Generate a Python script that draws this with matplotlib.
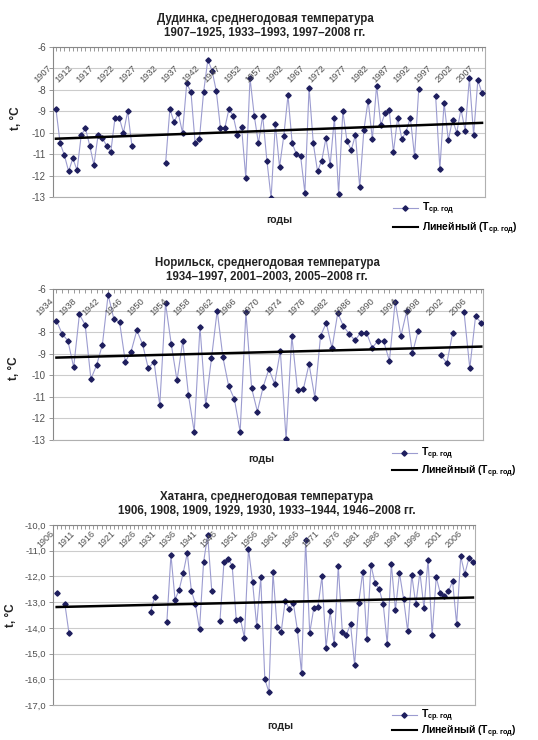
import numpy as np
import pandas as pd
import matplotlib
matplotlib.use("Agg")
import matplotlib.pyplot as plt
from matplotlib.lines import Line2D

plt.rcParams['font.family'] = ['Liberation Sans', 'DejaVu Sans']
plt.rcParams['mathtext.fontset'] = 'custom'
plt.rcParams['mathtext.rm'] = 'Liberation Sans:bold'
plt.rcParams['mathtext.it'] = 'Liberation Sans:bold'
plt.rcParams['mathtext.bf'] = 'Liberation Sans:bold'

# Дудинка
dud_years = list(range(1907, 1926)) + list(range(1933, 1994)) + list(range(1997, 2009))
dud_temp = [-8.9, -10.5, -11.05, -11.8, -11.2, -11.75, -10.1, -9.8, -10.6, -11.5,
            -10.1, -10.25, -10.6, -10.9, -9.3, -9.3, -10.0, -9.0, -10.6,
            -11.4, -8.9, -9.5, -9.1, -10.0, -7.7, -8.1, -10.5, -10.3, -8.1,
            -6.6, -7.1, -8.05, -9.8, -9.8, -8.9, -9.2, -10.1, -9.75, -12.1,
            -7.45, -9.2, -10.5, -9.2, -11.3, -13.05, -9.6, -11.6, -10.15, -8.25,
            -10.5, -11.0, -11.1, -12.8, -7.9, -10.5, -11.8, -11.3, -10.25, -11.5,
            -9.3, -12.85, -9.0, -10.4, -10.8, -10.1, -12.55, -9.85, -8.5, -10.3,
            -7.8, -9.65, -9.1, -8.95, -10.9, -9.3, -10.3, -9.95, -9.3, -11.1,
            -7.95,
            -8.3, -11.7, -8.6, -10.35, -9.4, -10.0, -8.9, -9.9, -7.45, -10.1, -7.55, -8.15]
dud_trend = [-10.28, -9.54]
dud_labels = list(range(1907, 2008, 5))

# Норильск
nor_years = list(range(1934, 1998)) + list(range(2001, 2004)) + list(range(2005, 2009))
nor_temp = [-7.47, -8.08, -8.4, -9.63, -7.18, -7.66, -10.17, -9.53, -8.58, -6.27,
            -7.39, -7.54, -9.37, -8.9, -7.92, -8.56, -9.68, -9.37, -11.39, -6.66,
            -8.56, -10.24, -8.41, -10.93, -12.62, -7.75, -11.39, -9.22, -7.0, -9.17,
            -10.5, -11.11, -12.62, -7.08, -10.6, -11.68, -10.55, -9.71, -10.4, -8.87,
            -12.97, -8.18, -10.7, -10.65, -9.48, -11.03, -8.18, -7.57, -8.75, -7.11,
            -7.73, -8.08, -8.38, -8.03, -8.03, -8.72, -8.41, -8.43, -9.33, -6.58,
            -8.18, -7.04, -8.98, -7.95,
            -9.07, -9.44, -8.06,
            -7.08, -9.68, -7.27, -7.57]
nor_trend = [-9.18, -8.67]
nor_labels = list(range(1934, 2007, 4))

# Хатанга
kha_years = [1906, 1908, 1909, 1929, 1930] + list(range(1933, 1945)) + list(range(1946, 2009))
kha_temp = [-12.65, -13.06, -14.19, -13.38, -12.8,
            -13.76, -11.16, -12.9, -12.52, -11.87, -11.09, -12.55, -13.08, -14.06, -11.44, -10.4, -12.56,
            -13.74, -11.42, -11.31, -11.58, -13.68, -13.65, -14.38, -10.92, -12.23, -13.91,
            -12.04, -15.99, -16.5, -11.84, -13.96, -14.17, -12.94, -13.27, -13.05, -14.1,
            -15.77, -10.6, -14.2, -13.23, -13.19, -12.0, -14.77, -13.36, -14.64, -11.61,
            -14.17, -14.26, -13.85, -15.45, -13.04, -11.81, -14.42, -11.55, -12.26, -12.48,
            -13.06, -14.62, -11.52, -13.3, -11.87, -12.87, -14.13, -11.94, -13.08, -11.84,
            -13.23, -11.35, -14.26, -12.03, -12.65, -12.78, -12.58, -12.19, -13.85, -11.22,
            -11.91, -11.29, -11.42]
kha_trend = [-13.19, -12.82]
kha_labels = list(range(1906, 2007, 5))

W, H = 538, 740
LINE_C = '#9c9cd0'
MARK_C = '#1e1e5e'
TXT_C = '#505050'


def panel(ax, years, temps, trend, labels, title, p):
    s = pd.Series(temps, index=years).reindex(range(years[0], years[-1] + 1))
    ax.plot(s.index, s.values, color=LINE_C, lw=0.8, marker='D', ms=2.7,
            mfc=MARK_C, mec=MARK_C, zorder=3)
    ax.plot([years[0], years[-1]], trend, color='black', lw=1.8, zorder=4)

    ax.set_xlim(p['xlim'])
    ax.set_ylim(p['ylim'])
    yt = np.arange(p['ylim'][0], p['ylim'][1] + 0.5, 1)
    ax.set_yticks(yt)
    ax.set_yticklabels(p['ylab'], fontsize=p['fs'], color=TXT_C)
    ax.yaxis.grid(True, color='#cccccc', lw=0.8)
    ax.set_axisbelow(True)
    ax.set_xticks([])
    ax.set_xticks(range(int(np.ceil(p['xlim'][0])), int(p['xlim'][1]) + 1), minor=True)
    ax.tick_params(axis='x', which='minor', top=True, bottom=False, direction='in',
                   length=3, color='#888888', width=0.6)
    ax.tick_params(axis='y', length=3, color='#888888', width=0.6, pad=2)
    for sp in ax.spines.values():
        sp.set_color('#b0b0b0')
        sp.set_linewidth(0.8)
    ax.spines['top'].set_color('#888888')
    ax.spines['left'].set_color('#888888')

    for yr in labels:
        ax.annotate(str(yr), xy=(yr, 1), xycoords=('data', 'axes fraction'),
                    xytext=p['yoff'], textcoords='offset pixels', rotation=45,
                    ha='center', va='center', fontsize=p['fs'] - 0.3, color=TXT_C)

    ax.set_ylabel('t, °C', fontsize=8.5, fontweight='bold', color='#222222')
    ax.yaxis.set_label_coords(*p['ylab_xy'])
    ax.text(*p['xlab_xy'], 'годы', transform=ax.transAxes, ha='center', va='center',
            fontsize=7.5, fontweight='bold', color='#222222')

    lab1 = 'T$_{\\mathregular{ср.год}}$'
    lab2 = 'Линейный (T$_{\\mathregular{ср.год}}$)'
    h1 = Line2D([], [], color=LINE_C, lw=0.8, marker='D', ms=2.7, mfc=MARK_C, mec=MARK_C)
    h2 = Line2D([], [], color='black', lw=1.5)
    ax.legend([h1, h2], [lab1, lab2], loc='upper left', bbox_to_anchor=p['leg'],
              frameon=False, prop={'weight': 'bold', 'size': 7.5}, handlelength=2.4,
              handletextpad=0.4, labelspacing=p['lsp'], borderaxespad=0, borderpad=0)

    fig.text(p['title_xy'][0] / W, 1 - p['title_xy'][1] / H, title, ha='center', va='center',
             fontsize=8.3, fontweight='bold', color='#222222', linespacing=1.15)


fig = plt.figure(figsize=(W / 100, H / 100), dpi=100)
fig.patch.set_facecolor('white')

ax1 = fig.add_axes([53 / W, 1 - 197 / H, 432 / W, 150 / H])
ax2 = fig.add_axes([53 / W, 1 - 440 / H, 430 / W, 151 / H])
ax3 = fig.add_axes([53 / W, 1 - 705 / H, 422 / W, 180 / H])

panel(ax1, dud_years, dud_temp, dud_trend, dud_labels,
      'Дудинка, среднегодовая температура\n1907–1925, 1933–1993, 1997–2008 гг.',
      dict(xlim=(1906.3, 2008.7), ylim=(-13, -6), fs=7,
           ylab=['-13', '-12', '-11', '-10', '-9', '-8', '', '-6'],
           yoff=(-13, -27), ylab_xy=(-0.072, 0.527), xlab_xy=(0.525, -0.153),
           leg=(0.787, -0.027), lsp=0.28, title_xy=(265, 26)))

panel(ax2, nor_years, nor_temp, nor_trend, nor_labels,
      'Норильск, среднегодовая температура\n1934–1997, 2001–2003, 2005–2008 гг.',
      dict(xlim=(1933.4, 2008.3), ylim=(-13, -6), fs=7,
           ylab=['-13', '-12', '-11', '-10', '-9', '-8', '', '-6'],
           yoff=(-12, -18), ylab_xy=(-0.077, 0.477), xlab_xy=(0.484, -0.126),
           leg=(0.788, -0.04), lsp=0.1, title_xy=(267, 270)))

panel(ax3, kha_years, kha_temp, kha_trend, kha_labels,
      'Хатанга, среднегодовая температура\n1906, 1908, 1909, 1929, 1930, 1933–1944, 1946–2008 гг.',
      dict(xlim=(1905.1, 2008.5), ylim=(-17, -10), fs=6.8,
           ylab=['-17,0', '-16,0', '-15,0', '-14,0', '-13,0', '-12,0', '-11,0', '-10,0'],
           yoff=(-11, -14), ylab_xy=(-0.085, 0.5), xlab_xy=(0.538, -0.117),
           leg=(0.803, -0.017), lsp=-0.1, title_xy=(267, 504)))

fig.savefig('out.png', dpi=100)
